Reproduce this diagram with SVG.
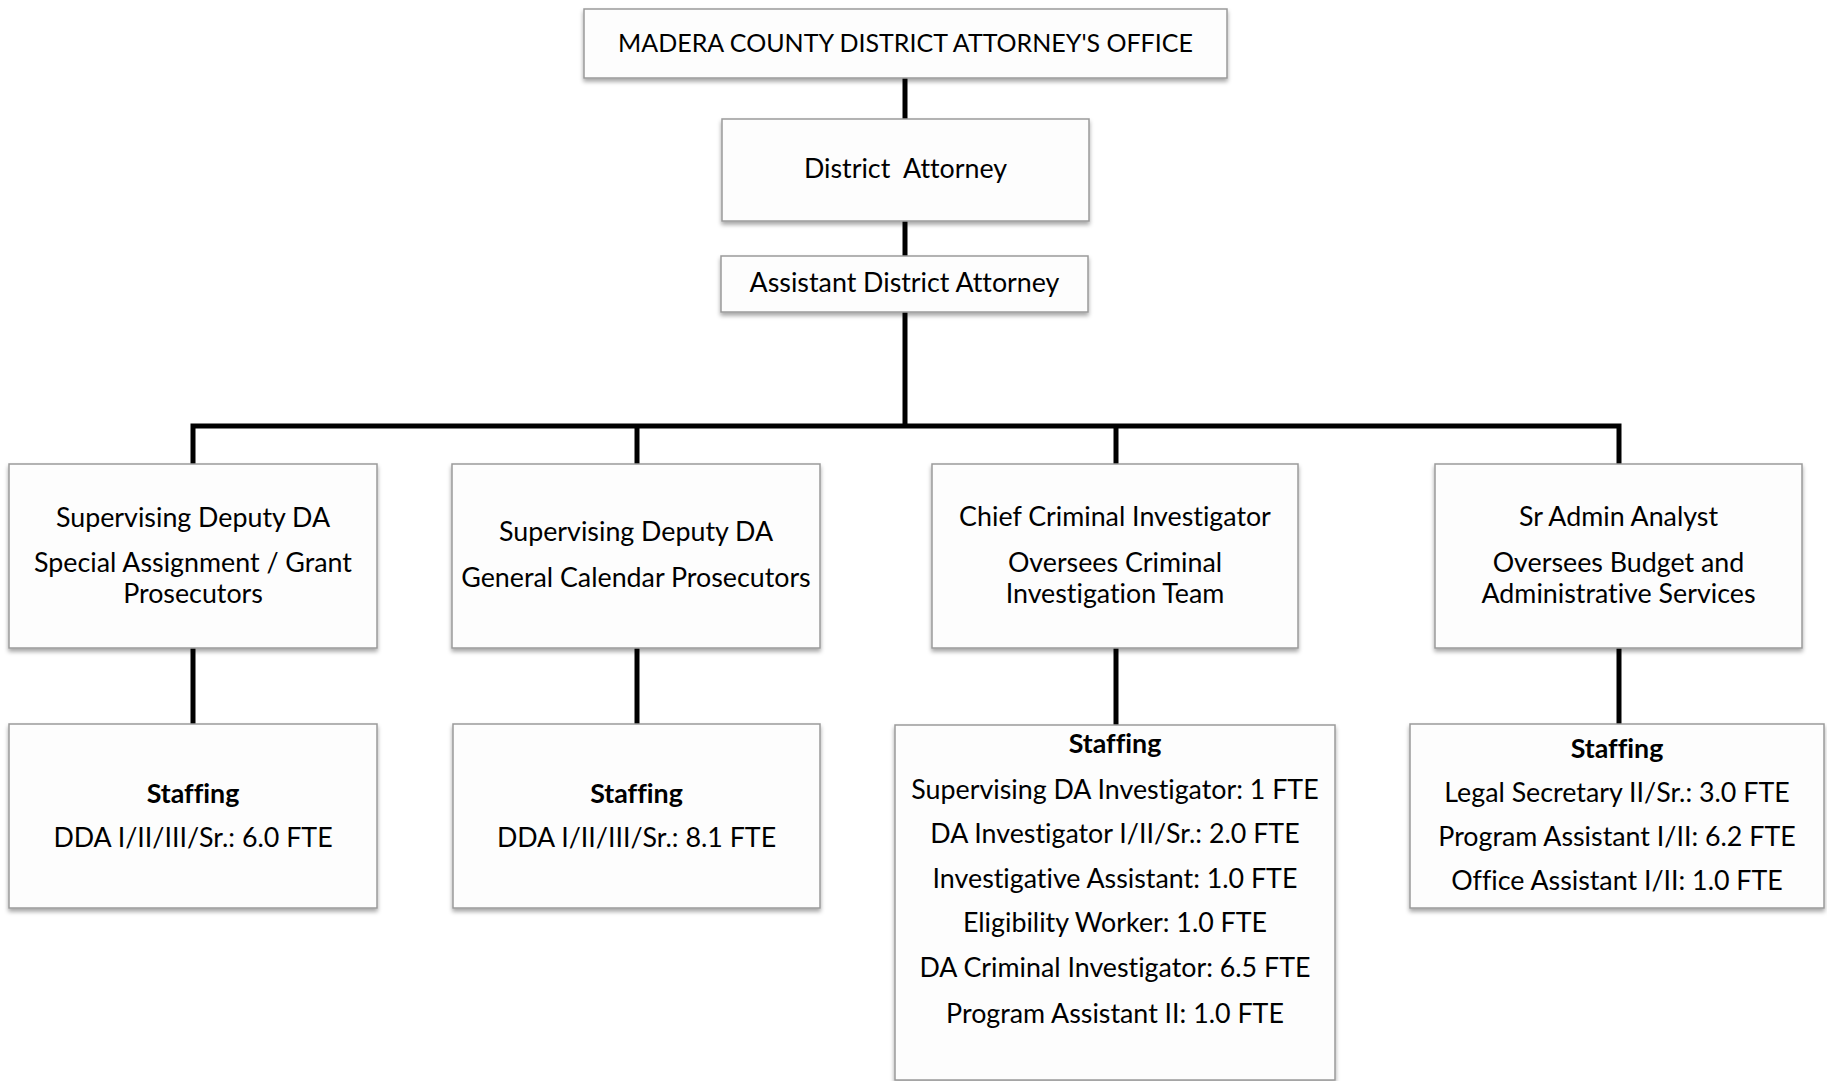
<svg xmlns="http://www.w3.org/2000/svg" width="1827" height="1081" viewBox="0 0 1827 1081">
<style>
.box{fill:#fdfdfd;stroke:#9a9a9a;stroke-width:1.5;filter:url(#sh)}
.t{font-family:Lato,"Liberation Sans",sans-serif;font-size:26.8px;fill:#000;text-anchor:middle;font-variant-ligatures:none}
.h{font-size:25px}
.b{font-weight:bold}
.c{fill:none;stroke:#000;stroke-width:5;stroke-linejoin:miter;stroke-linecap:butt}
</style>
<defs>
<filter id="sh" x="-5%" y="-10%" width="110%" height="130%">
<feDropShadow dx="0" dy="3" stdDeviation="2" flood-color="#000" flood-opacity="0.35"/>
</filter>
</defs>
<rect width="1827" height="1081" fill="#fff"/>
<g id="connectors">
<path class="c" d="M905 78V119"/>
<path class="c" d="M905 221V256"/>
<path class="c" d="M905 312V426"/>
<path class="c" d="M193 464V426H1619V464"/>
<path class="c" d="M637 426V464"/>
<path class="c" d="M1116 426V464"/>
<path class="c" d="M193 648V724"/>
<path class="c" d="M637 648V724"/>
<path class="c" d="M1116 648V725"/>
<path class="c" d="M1619 648V724"/>
</g>
<g id="office">
<rect class="box" x="584" y="9" width="643" height="69"/>
<text class="t h" x="905.5" y="52">MADERA COUNTY DISTRICT ATTORNEY'S OFFICE</text>
</g>
<g id="da">
<rect class="box" x="722" y="119" width="367" height="102"/>
<text class="t" x="905.5" y="178" xml:space="preserve">District  Attorney</text>
</g>
<g id="ada">
<rect class="box" x="721" y="256" width="367" height="56"/>
<text class="t" x="904.5" y="292">Assistant District Attorney</text>
</g>
<g id="sdda1">
<rect class="box" x="9" y="464" width="368" height="184"/>
<text class="t" x="193" y="527">Supervising Deputy DA</text>
<text class="t" x="193" y="572">Special Assignment / Grant</text>
<text class="t" x="193" y="603">Prosecutors</text>
</g>
<g id="sdda2">
<rect class="box" x="452" y="464" width="368" height="184"/>
<text class="t" x="636" y="541">Supervising Deputy DA</text>
<text class="t" x="636" y="587">General Calendar Prosecutors</text>
</g>
<g id="cci">
<rect class="box" x="932" y="464" width="366" height="184"/>
<text class="t" x="1115" y="526">Chief Criminal Investigator</text>
<text class="t" x="1115" y="572">Oversees Criminal</text>
<text class="t" x="1115" y="603">Investigation Team</text>
</g>
<g id="saa">
<rect class="box" x="1435" y="464" width="367" height="184"/>
<text class="t" x="1618.5" y="526">Sr Admin Analyst</text>
<text class="t" x="1618.5" y="572">Oversees Budget and</text>
<text class="t" x="1618.5" y="603">Administrative Services</text>
</g>
<g id="staff1">
<rect class="box" x="9" y="724" width="368" height="184"/>
<text class="t b" x="193" y="803">Staffing</text>
<text class="t" x="193" y="847">DDA I/II/III/Sr.: 6.0 FTE</text>
</g>
<g id="staff2">
<rect class="box" x="453" y="724" width="367" height="184"/>
<text class="t b" x="636.5" y="803">Staffing</text>
<text class="t" x="636.5" y="847">DDA I/II/III/Sr.: 8.1 FTE</text>
</g>
<g id="staff3">
<rect class="box" x="895" y="725" width="440" height="355"/>
<text class="t b" x="1115" y="753">Staffing</text>
<text class="t" x="1115" y="799">Supervising DA Investigator: 1 FTE</text>
<text class="t" x="1115" y="843">DA Investigator I/II/Sr.: 2.0 FTE</text>
<text class="t" x="1115" y="888">Investigative Assistant: 1.0 FTE</text>
<text class="t" x="1115" y="932">Eligibility Worker: 1.0 FTE</text>
<text class="t" x="1115" y="977">DA Criminal Investigator: 6.5 FTE</text>
<text class="t" x="1115" y="1023">Program Assistant II: 1.0 FTE</text>
</g>
<g id="staff4">
<rect class="box" x="1410" y="724" width="414" height="184"/>
<text class="t b" x="1617" y="758">Staffing</text>
<text class="t" x="1617" y="802">Legal Secretary II/Sr.: 3.0 FTE</text>
<text class="t" x="1617" y="846">Program Assistant I/II: 6.2 FTE</text>
<text class="t" x="1617" y="890">Office Assistant I/II: 1.0 FTE</text>
</g>
</svg>
